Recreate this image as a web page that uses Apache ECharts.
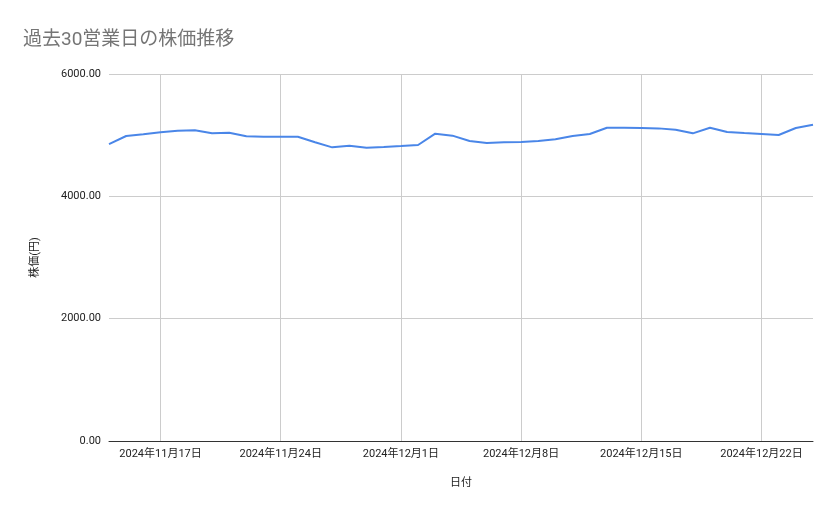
<!DOCTYPE html>
<html><head><meta charset="utf-8">
<script src="https://cdn.jsdelivr.net/npm/echarts@6/dist/echarts.min.js"></script>
<style>html,body{margin:0;padding:0;background:#fff}#c{width:839px;height:519px}</style>
</head><body><div id="c"></div>
<script>
const startDate = '2024-11-14';
const prices = [4855,4986,5014,5046,5073,5079,5030,5041,4981,4975,4975,4975,4883,4801,4828,4795,4806,4822,4839,5024,4992,
4904,4872,4883,4888,4904,4932,4986,5019,5122,5122,5117,5111,5090,5030,5122,5052,5035,5019,5003,5117,5171];
const yTicks = [0,2000,4000,6000];
const dates = [];
{ const d0 = new Date(startDate+'T00:00:00');
  for (let i=0;i<prices.length;i++){ const d=new Date(d0); d.setDate(d0.getDate()+i);
    dates.push(d.getFullYear()+'年'+(d.getMonth()+1)+'月'+d.getDate()+'日'); } }
const showIdx = (i)=> i%7===3;
const chart = echarts.init(document.getElementById('c'));
const font = 'Roboto, "Noto Sans CJK JP", sans-serif';
chart.setOption({
  textStyle:{fontFamily:font},
  title:{text:'過去30営業日の株価推移',left:18,top:26,textStyle:{fontSize:19,color:'#757575',fontWeight:'normal',fontFamily:font}},
  grid:{left:109,right:26,top:74,bottom:78},
  xAxis:{type:'category',data:dates,boundaryGap:false,
    name:'日付',nameLocation:'middle',nameGap:37,nameTextStyle:{color:'#222',fontSize:11},
    axisLine:{lineStyle:{color:'#333'}},axisTick:{show:false},
    axisLabel:{interval:(i)=>showIdx(i),color:'#222',fontSize:11,margin:8},
    splitLine:{show:true,interval:(i)=>showIdx(i),lineStyle:{color:'#ccc'}}},
  yAxis:{type:'value',min:yTicks[0],max:yTicks[yTicks.length-1],interval:2000,
    name:'株価(円)',nameLocation:'middle',nameGap:68,nameRotate:90,nameTextStyle:{color:'#222',fontSize:11},
    axisLabel:{formatter:v=>v.toFixed(2),color:'#222',fontSize:11},
    splitLine:{lineStyle:{color:'#ccc'}}},
  series:[{type:'line',data:prices,showSymbol:false,lineStyle:{color:'#4a86e8',width:2},itemStyle:{color:'#4a86e8'}}],
  animation:false
});
</script></body></html>
